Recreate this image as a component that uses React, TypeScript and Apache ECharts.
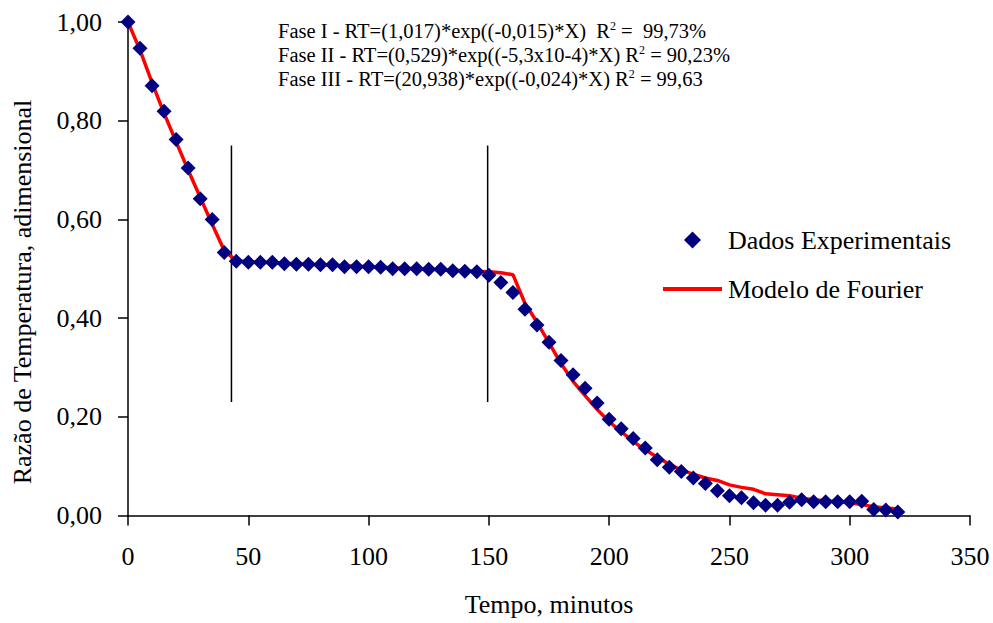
import React, { useEffect, useRef } from "react";
import * as echarts from "echarts";

const timeMin = [
  0, 5, 10, 15, 20, 25, 30, 35, 40, 45, 50, 55, 60, 65, 70, 75, 80, 85, 90, 95,
  100, 105, 110, 115, 120, 125, 130, 135, 140, 145, 150, 155, 160, 165, 170, 175,
  180, 185, 190, 195, 200, 205, 210, 215, 220, 225, 230, 235, 240, 245, 250, 255,
  260, 265, 270, 275, 280, 285, 290, 295, 300, 305, 310, 315, 320,
];

const experimental = [
  1.0, 0.947, 0.871, 0.819, 0.762, 0.704, 0.642, 0.6, 0.533, 0.515, 0.513, 0.513,
  0.513, 0.51, 0.509, 0.509, 0.508, 0.508, 0.504, 0.504, 0.504, 0.503, 0.5, 0.5,
  0.5, 0.499, 0.499, 0.496, 0.495, 0.494, 0.487, 0.472, 0.452, 0.418, 0.386,
  0.351, 0.314, 0.285, 0.258, 0.228, 0.195, 0.176, 0.156, 0.137, 0.113, 0.098,
  0.089, 0.076, 0.065, 0.05, 0.04, 0.036, 0.026, 0.021, 0.021, 0.027, 0.032,
  0.028, 0.028, 0.028, 0.028, 0.029, 0.012, 0.011, 0.007,
];

const model = [
  1.0, 0.943, 0.877, 0.815, 0.757, 0.7, 0.645, 0.59, 0.537, 0.516, 0.514, 0.513,
  0.512, 0.511, 0.51, 0.509, 0.508, 0.507, 0.506, 0.505, 0.504, 0.503, 0.502,
  0.501, 0.5, 0.499, 0.498, 0.497, 0.496, 0.495, 0.494, 0.492, 0.488, 0.43,
  0.392, 0.35, 0.308, 0.272, 0.243, 0.215, 0.19, 0.17, 0.15, 0.133, 0.118, 0.104,
  0.092, 0.084, 0.076, 0.071, 0.062, 0.057, 0.053, 0.044, 0.042, 0.04, 0.035,
  0.032, 0.03, 0.028, 0.026, 0.022, 0.018, 0.015, 0.013,
];

const phaseBoundaries = [43, 149.5];
const phaseLineRange = [0.23, 0.75];

const equationLines = [
  "Fase I - RT=(1,017)*exp((-0,015)*X)  R{sup|2} =  99,73%",
  "Fase II - RT=(0,529)*exp((-5,3x10-4)*X) R{sup|2} = 90,23%",
  "Fase III - RT=(20,938)*exp((-0,024)*X) R{sup|2} = 99,63",
];

const seriesNames = ["Dados Experimentais", "Modelo de Fourier"];
const xAxisTitle = "Tempo, minutos";
const yAxisTitle = "Razão de Temperatura, adimensional";

export default function App() {
  const ref = useRef<HTMLDivElement>(null);

  useEffect(() => {
    if (!ref.current) return;
    const chart = echarts.init(ref.current, null, { renderer: "svg" });
    const font = "Liberation Serif";
    const black = "#000000";
    const navy = "#000080";
    const red = "#FF0000";

    const expData = timeMin.map((t, i) => [t, experimental[i]]);
    const modelData = timeMin.map((t, i) => [t, model[i]]);

    const phaseSeries = phaseBoundaries.map((x) => ({
      type: "line",
      name: "fase-" + x,
      data: [
        [x, phaseLineRange[0]],
        [x, phaseLineRange[1]],
      ],
      symbol: "none",
      silent: true,
      lineStyle: { color: black, width: 1.5 },
      z: 1,
    }));

    const legendText = { color: black, fontSize: 26, fontFamily: font };

    chart.setOption({
      animation: false,
      backgroundColor: "#ffffff",
      textStyle: { fontFamily: font },
      grid: { left: 128, right: 23, top: 22, bottom: 107.5 },
      xAxis: {
        type: "value",
        min: 0,
        max: 350,
        interval: 50,
        splitLine: { show: false },
        axisLine: { show: true, lineStyle: { color: black, width: 1.5 } },
        axisTick: { show: true, inside: false, length: 10, lineStyle: { color: black, width: 1.5 } },
        axisLabel: { color: black, fontSize: 26, fontFamily: font, margin: 28 },
        name: xAxisTitle,
        nameLocation: "middle",
        nameGap: 76,
        nameTextStyle: { color: black, fontSize: 26, fontFamily: font },
      },
      yAxis: {
        type: "value",
        min: 0,
        max: 1,
        interval: 0.2,
        splitLine: { show: false },
        axisLine: { show: true, lineStyle: { color: black, width: 1.5 } },
        axisTick: { show: true, inside: false, length: 10, lineStyle: { color: black, width: 1.5 } },
        axisLabel: {
          color: black,
          fontSize: 26,
          fontFamily: font,
          margin: 26,
          formatter: (v: number) => v.toFixed(2).replace(".", ","),
        },
      },
      legend: [
        {
          data: [{ name: seriesNames[0], icon: "diamond", itemStyle: { color: navy, opacity: 1 } }],
          left: 684,
          top: 227,
          padding: 0,
          itemWidth: 17,
          itemHeight: 17,
          textStyle: { ...legendText, padding: [0, 0, 0, 22] },
        },
        {
          data: [{ name: seriesNames[1], icon: "rect", itemStyle: { color: red } }],
          left: 663,
          top: 276,
          padding: 0,
          itemWidth: 59,
          itemHeight: 4,
          textStyle: { ...legendText, padding: [0, 0, 0, 1] },
        },
      ],
      graphic: [
        ...equationLines.map((line, i) => ({
          type: "text",
          x: 278,
          y: 30.5 + i * 24,
          silent: true,
          style: {
            text: line,
            fill: black,
            fontSize: 20.5,
            fontFamily: font,
            align: "left",
            verticalAlign: "middle",
            rich: {
              sup: { fontSize: 12, fontFamily: font, fill: black, verticalAlign: "top", padding: [0, 0, 6, 0] },
            },
          },
        })),
        {
          type: "text",
          x: 22,
          y: 292,
          rotation: Math.PI / 2,
          silent: true,
          style: {
            text: yAxisTitle,
            fill: black,
            fontSize: 26,
            fontFamily: font,
            align: "center",
            verticalAlign: "middle",
          },
        },
      ],
      series: [
        ...phaseSeries,
        {
          type: "line",
          name: seriesNames[1],
          data: modelData,
          symbol: "none",
          lineStyle: { color: red, width: 3.5 },
          itemStyle: { color: red },
          z: 2,
        },
        {
          type: "scatter",
          name: seriesNames[0],
          data: expData,
          symbol: "diamond",
          symbolSize: 15,
          itemStyle: { color: navy, opacity: 1 },
          z: 3,
        },
      ],
    });

    return () => chart.dispose();
  }, []);

  return (
    <div
      ref={ref}
      style={{ position: "fixed", left: 0, top: 0, width: 993, height: 623, background: "#fff" }}
    />
  );
}
